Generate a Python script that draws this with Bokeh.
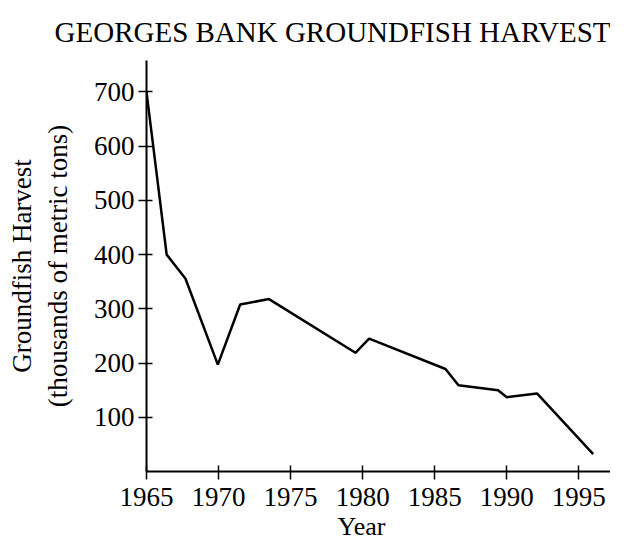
from bokeh.plotting import figure
from bokeh.models import FixedTicker, Range1d, Title
from bokeh.embed import file_html
from bokeh.resources import INLINE

years = [1965, 1966.4, 1967.7, 1969.95, 1971.5, 1973.5, 1979.5, 1980.45,
         1985.75, 1986.65, 1989.4, 1990.0, 1992.1, 1996.0]
harvest = [700, 400, 356, 197, 308, 318, 219, 245, 189, 159, 150, 137, 144, 32]
x_ticks = [1965, 1970, 1975, 1980, 1985, 1990, 1995]
y_ticks = [100, 200, 300, 400, 500, 600, 700]

FONT = "Liberation Serif"

p = figure(width=610, height=541, output_backend="svg", toolbar_location=None,
           x_range=Range1d(1965, 1997.2), y_range=Range1d(0, 758),
           min_border_left=146, min_border_right=0, min_border_top=60,
           min_border_bottom=70)
p.title.text = "GEORGES BANK GROUNDFISH HARVEST"
p.title.align = "right"
p.title.text_font = FONT
p.title.text_font_size = "29px"
p.title.text_font_style = "normal"
p.title.text_color = "black"
p.title.standoff = 26

p.outline_line_color = None
p.xgrid.visible = False
p.ygrid.visible = False

p.line(years, harvest, line_color="black", line_width=2.5)

for ax in (p.xaxis[0], p.yaxis[0]):
    ax.axis_line_width = 2
    ax.axis_line_color = "black"
    ax.major_tick_line_color = "black"
    ax.major_tick_line_width = 1.5
    ax.major_tick_out = 8
    ax.major_tick_in = 6
    ax.minor_tick_line_color = None
    ax.major_label_text_font = FONT
    ax.major_label_text_font_size = "27px"
    ax.major_label_text_color = "black"
    ax.major_label_standoff = 4

p.xaxis.major_label_standoff = 8
p.xaxis.ticker = FixedTicker(ticks=x_ticks)
p.yaxis.ticker = FixedTicker(ticks=y_ticks)

p.yaxis.axis_label = "Groundfish Harvest\n(thousands of metric tons)"
p.yaxis.axis_label_text_font = FONT
p.yaxis.axis_label_text_font_size = "27px"
p.yaxis.axis_label_text_font_style = "normal"
p.yaxis.axis_label_text_color = "black"
p.yaxis.axis_label_standoff = 18

year_title = Title(text="Year", align="left", offset=191, text_font=FONT,
                   text_font_size="26px", text_font_style="normal",
                   text_color="black", standoff=2)
p.add_layout(year_title, "below")

open("out.html", "w").write(file_html(p, INLINE))
